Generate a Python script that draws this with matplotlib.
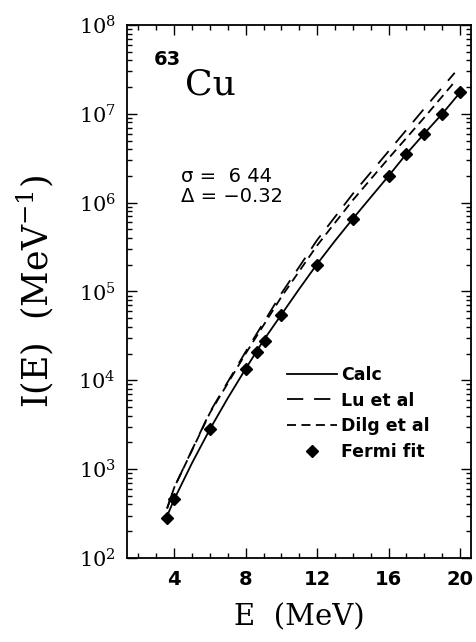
import matplotlib.pyplot as plt
from matplotlib.ticker import LogLocator, MultipleLocator, NullFormatter, FixedLocator
import numpy as np

plt.rcParams["mathtext.fontset"] = "dejavuserif"

# Calculated level density curve
calc_e = [3.6, 4, 5, 6, 7, 8, 9, 10, 11, 12, 13, 14, 15, 16, 17, 18, 19, 20]
calc_i = [295, 457, 1175, 2820, 6310, 1.35e4, 2.82e4, 5.5e4, 1.07e5, 2.04e5,
          3.72e5, 6.6e5, 1.15e6, 2.0e6, 3.55e6, 6.0e6, 1.0e7, 1.74e7]

# Lu et al
lu_e = [3.6, 4, 6, 8, 10, 12, 14, 16, 18, 19.7]
lu_i = [360, 620, 4400, 2.1e4, 9.5e4, 3.8e5, 1.26e6, 3.8e6, 1.15e7, 2.9e7]

# Dilg et al
dilg_e = [3.6, 4, 6, 8, 10, 12, 14, 16, 18, 19.7]
dilg_i = [360, 620, 4300, 2.0e4, 8.7e4, 3.3e5, 1.07e6, 3.16e6, 9.1e6, 2.3e7]

# Fermi gas fit points
fermi_e = [3.6, 4, 6, 8, 8.65, 9.1, 10, 12, 14, 16, 17, 18, 19, 20]
fermi_i = [280, 457, 2800, 1.35e4, 2.1e4, 2.8e4, 5.5e4, 2.0e5, 6.6e5, 2.0e6,
           3.5e6, 6.0e6, 1.0e7, 1.75e7]

y_decades = [1e2, 1e3, 1e4, 1e5, 1e6, 1e7, 1e8]

fig = plt.figure(figsize=(4.77, 6.42), dpi=100)
ax = fig.add_axes([0.266, 0.131, 0.721, 0.830])

ax.plot(calc_e, calc_i, color="black", lw=1.3, label="Calc")
ax.plot(lu_e, lu_i, color="black", lw=1.3, dashes=(9, 6), label="Lu et al")
ax.plot(dilg_e, dilg_i, color="black", lw=1.3, dashes=(5, 3), label="Dilg et al")
ax.plot(fermi_e, fermi_i, ls="none", marker="D", ms=6.5, color="black",
        label="Fermi fit")

ax.set_yscale("log")
ax.set_xlim(1.35, 20.6)
ax.set_ylim(1e2, 1e8)

ax.xaxis.set_major_locator(FixedLocator([4, 8, 12, 16, 20]))
ax.xaxis.set_minor_locator(MultipleLocator(1))
ax.yaxis.set_major_locator(FixedLocator(y_decades))
ax.yaxis.set_minor_locator(LogLocator(base=10, subs=np.arange(2, 10), numticks=20))
ax.yaxis.set_minor_formatter(NullFormatter())

ax.tick_params(which="both", direction="in", top=True, right=True, width=1.0)
ax.tick_params(which="major", length=7)
ax.tick_params(which="minor", length=3.5)
ax.tick_params(axis="y", which="major", labelsize=15, pad=8)
ax.tick_params(axis="x", which="major", labelsize=14, pad=9)
for lab in ax.get_xticklabels():
    lab.set_fontweight("bold")
for lab in ax.get_yticklabels():
    lab.set_family("DejaVu Serif")
for spine in ax.spines.values():
    spine.set_linewidth(1.3)

ax.set_xlabel("E  (MeV)", family="DejaVu Serif", fontsize=21, labelpad=10)
ax.set_ylabel(r"I(E)  (MeV$^{-1}$)", family="DejaVu Serif", fontsize=25, labelpad=16)

ax.text(0.078, 0.925, "63", transform=ax.transAxes, fontsize=14, fontweight="bold")
ax.text(0.17, 0.87, "Cu", transform=ax.transAxes, family="DejaVu Serif", fontsize=26)
ax.text(0.158, 0.706, "σ =  6 44", transform=ax.transAxes, fontsize=14)
ax.text(0.158, 0.667, "Δ = −0.32", transform=ax.transAxes, fontsize=14)

leg = ax.legend(loc="upper left", bbox_to_anchor=(0.42, 0.39), frameon=False,
                handlelength=2.9, handletextpad=0.2, labelspacing=0.45,
                prop={"weight": "bold", "size": 12.5})

fig.savefig("out.png", dpi=100)
